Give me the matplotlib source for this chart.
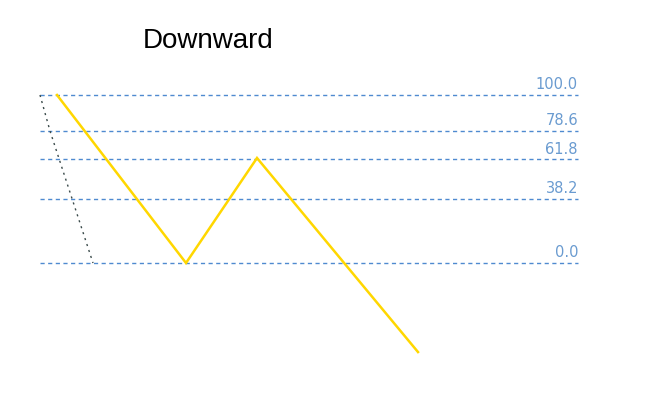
import matplotlib.pyplot as plt

# fibonacci retracement levels (percent)
levels = [100.0, 78.6, 61.8, 38.2, 0.0]
level_labels = ["100.0", "78.6", "61.8", "38.2", "0.0"]

# zigzag swing: x in bar units, y in percent of the range
swing_x = [57, 186, 257, 418]
swing_y = [100, 0, 62.5, -53]

# trend line connecting the levels
trend_x = [40, 50, 93]
trend_y = [100, 78.6, 0]

level_x0, level_x1 = 40, 578

fig = plt.figure(figsize=(6.59, 4.01), dpi=100)
ax = fig.add_axes([0, 0, 1, 1])
ax.set_xlim(0, 659)
ax.set_ylim(-(401 - 263) / 1.68, 263 / 1.68)
ax.axis("off")

for lv, lab in zip(levels, level_labels):
    ax.plot([level_x0, level_x1], [lv, lv], color="#4f8ad0", lw=1,
            dashes=(3, 2.5))
    ax.text(level_x1, lv + 1.5, lab, ha="right", va="bottom",
            color="#6a9bd0", fontsize=10.5, family="DejaVu Sans")

ax.plot(trend_x, trend_y, color="#3a4a4a", lw=1, dashes=(1.5, 3))
ax.plot(swing_x, swing_y, color="#ffd700", lw=1.8, solid_joinstyle="miter")

fig.text(208.5 / 659, 1 - 41.5 / 401, "Downward", ha="center", va="center",
         fontsize=20, family="Liberation Sans")

fig.savefig("out.png", dpi=100)
